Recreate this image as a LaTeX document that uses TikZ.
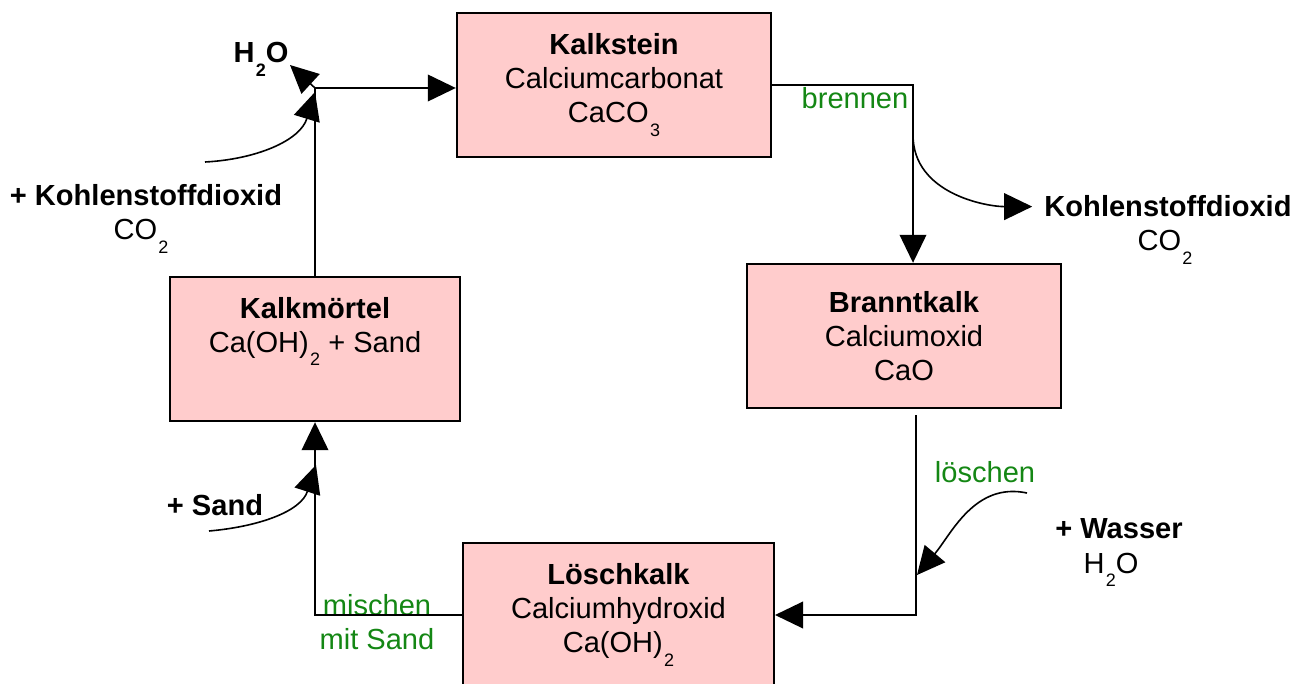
\documentclass[tikz,border=0pt]{standalone}
\usepackage{fontspec}
\setmainfont{Liberation Sans}
\usepackage{xcolor}
\usepackage{tikz}
\usetikzlibrary{
    calc,
    arrows.meta,
    positioning
}
\definecolor{kalkrosa}{HTML}{FFCCCC}
\definecolor{prozessgruen}{RGB}{20,135,20}
\newcommand{\tief}[1]{\kern1pt\raisebox{-0.46em}{\fontsize{13.5pt}{13.5pt}\selectfont #1}}

\begin{document}
\begin{tikzpicture}[
        x=0.75pt, y=-0.75pt,
        every node/.append style={font={\fontsize{21.8pt}{25.5pt}\selectfont}, inner sep=0pt},
        stoff box/.style={draw=black, line width=1.8pt, fill=kalkrosa, align=center,
            minimum width=235.5pt, minimum height=108pt},
        pfeil/.style={line width=1.2pt, -{Triangle[length=21pt, width=20pt]}},
        vorgang/.style={text=prozessgruen, align=center}
    ]
    \useasboundingbox (0,0) rectangle (1302,684);

    % die vier Stoffe
    \node[stoff box] (kalkstein) at (614,85) {\textbf{Kalkstein}\\Calciumcarbonat\\CaCO\tief{3}};
    \node[stoff box] (branntkalk) at (904,336) {\textbf{Branntkalk}\\Calciumoxid\\CaO};
    \node[stoff box, minimum width=233pt] (loeschkalk) at (618.5,615) {\textbf{Löschkalk}\\Calciumhydroxid\\Ca(OH)\tief{2}};
    \node[stoff box, minimum width=217.5pt] (kalkmoertel) at (315,349) {\textbf{Kalkmörtel}\\Ca(OH)\tief{2} + Sand\\\strut};

    % Stoffe, die dazukommen oder entweichen
    \node[anchor=base] (co2rausname) at (1168,217) {\textbf{Kohlenstoffdioxid}};
    \node[anchor=base] (co2rausformel) at (1165,251) {CO\tief{2}};
    \node[anchor=base] (wassername) at (1119,538) {\textbf{+ Wasser}};
    \node[anchor=base] (wasserformel) at (1111,573) {H\tief{2}O};
    \node[anchor=base] (sandname) at (215,515) {\textbf{+ Sand}};
    \node[anchor=base] (co2reinname) at (146,206) {\textbf{+ Kohlenstoffdioxid}};
    \node[anchor=base] (co2reinformel) at (141,240) {CO\tief{2}};
    \node[anchor=base] (h2oraus) at (261,63) {\textbf{H\tief{2}O}};

    \node[vorgang, anchor=base] (brennen) at (855,109) {brennen};
    \node[vorgang, anchor=base] (loeschen) at (985,482) {löschen};
    \node[vorgang] (mischen) at (377,622) {mischen\\mit Sand};

    \coordinate (knickA) at (913,85);
    \coordinate (abzweigA) at (913,135);
    \coordinate (knickB) at (916,615);
    \coordinate (wasserstart) at (1027,493);
    \coordinate (wasserziel) at (917,575);
    \coordinate (knickC) at (315,615);
    \coordinate (sandstart) at (209,531);
    \coordinate (sandziel) at (316,465);
    \coordinate (knickD) at (315,88);
    \coordinate (co2start) at (205,162);
    \coordinate (h2oziel) at (290,65);

    % Kreislauf
    \draw[pfeil] (kalkstein.east) -- (knickA) -- (knickA |- branntkalk.north);
    \draw[pfeil, shorten >=9pt] (abzweigA) to[out=-90, in=180] (co2rausname.west);

    \draw[pfeil] ([yshift=-4.5pt]branntkalk.south -| knickB) -- (knickB) -- (loeschkalk.east |- knickB);
    \draw[pfeil] (wasserstart) to[out=168, in=50] (wasserziel);

    \draw[pfeil] (loeschkalk.west) -- (knickC) -- (kalkmoertel.south);
    \draw[pfeil] (sandstart) to[out=5, in=-108] (sandziel);

    \draw[pfeil] (kalkmoertel.north) -- (knickD) -- (knickD -| kalkstein.west);
    \draw[pfeil] (co2start) to[out=3, in=-107] ([yshift=-3pt]knickD);
    \draw[pfeil] (knickD) -- (h2oziel);
\end{tikzpicture}
\end{document}
